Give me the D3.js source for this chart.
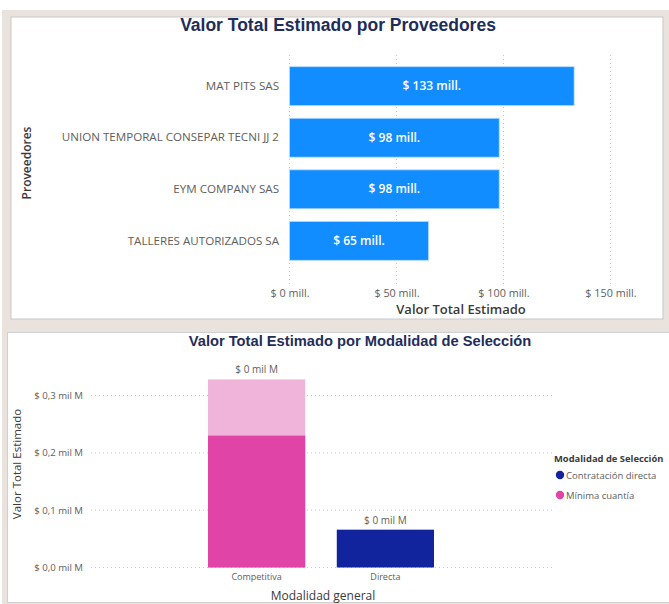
<!DOCTYPE html>
<html><head><meta charset="utf-8">
<script src="https://cdn.jsdelivr.net/npm/d3@7"></script>
<style>
html,body{margin:0;padding:0;background:#fff;}
svg{display:block;}
</style></head>
<body>
<svg id="c" width="669" height="604"></svg>
<script>
// ---- Data ----
const proveedores = ["MAT PITS SAS","UNION TEMPORAL CONSEPAR TECNI JJ 2","EYM COMPANY SAS","TALLERES AUTORIZADOS SA"];
const valoresProv = [133, 98, 98, 65]; // millones
const provLabels = ["$ 133 mill.","$ 98 mill.","$ 98 mill.","$ 65 mill."];
const xTicksProv = [0, 50, 100, 150];
const xTickLabelsProv = ["$ 0 mill.","$ 50 mill.","$ 100 mill.","$ 150 mill."];

const modalidades = ["Competitiva","Directa"];
const minimaCuantia = [0.230, 0];        // mil M (resaltado)
const totalCompetitiva = [0.328, 0];     // mil M (total, tono claro)
const contratacionDirecta = [0, 0.066];  // mil M
const modLabels = ["$ 0 mil M","$ 0 mil M"];
const yTicksMod = [0, 0.1, 0.2, 0.3];
const yTickLabelsMod = ["$ 0,0 mil M","$ 0,1 mil M","$ 0,2 mil M","$ 0,3 mil M"];
const legendNames = ["Contratación directa","Mínima cuantía"];
const legendColors = ["#12239E","#E044A7"];

const svg = d3.select("#c");
const SEGOE = "'Open Sans','Noto Sans',sans-serif";
const ARIAL = "'Liberation Sans',Arial,sans-serif";

// ---- Background panels ----
svg.append("rect").attr("x",2).attr("y",10).attr("width",667).attr("height",594).attr("fill","#e9e2dd");
svg.append("rect").attr("x",11).attr("y",17).attr("width",652).attr("height",302).attr("fill","#fff").attr("stroke","#c8c8c8").attr("stroke-width",1);
svg.append("rect").attr("x",7.5).attr("y",332.5).attr("width",662).attr("height",270).attr("fill","#fff").attr("stroke","#d0d0d0").attr("stroke-width",1);

// ---- Top chart ----
const gTop = svg.append("g");
gTop.append("text").attr("x",338).attr("y",31).attr("text-anchor","middle")
  .attr("font-family",ARIAL).attr("font-weight","bold").attr("font-size",17.5).attr("fill","#1f2d5a")
  .text("Valor Total Estimado por Proveedores");

const x1 = d3.scaleLinear().domain([0,150]).range([289.5, 610.5]);
const y1 = d3.scaleBand().domain(proveedores).range([60.5, 266.5]).paddingInner(0.245).paddingOuter(0.12);

// grid
gTop.append("g").selectAll("line").data(xTicksProv).join("line")
  .attr("x1",d=>x1(d)).attr("x2",d=>x1(d)).attr("y1",55).attr("y2",284)
  .attr("stroke","#c8c8c8").attr("stroke-dasharray","1,3");

const xAx1 = d3.axisBottom(x1).tickValues(xTicksProv).tickFormat((d,i)=>xTickLabelsProv[i]).tickSize(0).tickPadding(0);
const gx1 = gTop.append("g").attr("transform","translate(0,297)").call(xAx1);
gx1.select(".domain").remove();
gx1.selectAll("text").attr("font-family",SEGOE).attr("font-size",10.8).attr("fill","#605e5c").attr("dy","0");

const yAx1 = d3.axisLeft(y1).tickSize(0).tickPadding(0);
const gy1 = gTop.append("g").attr("transform","translate(279,0)").call(yAx1);
gy1.select(".domain").remove();
gy1.selectAll("text").attr("font-family",SEGOE).attr("font-size",11.6).attr("fill","#605e5c");

gTop.append("g").selectAll("rect").data(proveedores).join("rect")
  .attr("x",x1(0)).attr("y",d=>y1(d)).attr("width",(d,i)=>x1(valoresProv[i])-x1(0)).attr("height",y1.bandwidth())
  .attr("fill","#118DFF").attr("stroke","#b9dcff").attr("stroke-width",0.8);

gTop.append("g").selectAll("text").data(proveedores).join("text")
  .attr("x",(d,i)=>(x1(0)+x1(valoresProv[i]))/2).attr("y",d=>y1(d)+y1.bandwidth()/2+4)
  .attr("text-anchor","middle").attr("font-family",SEGOE).attr("font-weight","600").attr("font-size",12)
  .attr("fill","#fff").text((d,i)=>provLabels[i]);

gTop.append("text").attr("x",461).attr("y",314).attr("text-anchor","middle")
  .attr("font-family",SEGOE).attr("font-weight","600").attr("font-size",13).attr("fill","#3b3a39")
  .text("Valor Total Estimado");
gTop.append("text").attr("transform","translate(31,163) rotate(-90)").attr("text-anchor","middle")
  .attr("font-family",SEGOE).attr("font-weight","600").attr("font-size",12).attr("fill","#3b3a39")
  .text("Proveedores");

// ---- Bottom chart ----
const gBot = svg.append("g");
gBot.append("text").attr("x",360).attr("y",346).attr("text-anchor","middle")
  .attr("font-family",ARIAL).attr("font-weight","bold").attr("font-size",14.7).attr("fill","#1f2d5a")
  .text("Valor Total Estimado por Modalidad de Selección");

const y2 = d3.scaleLinear().domain([0,0.3]).range([567.5, 395.5]);
const x2 = d3.scaleBand().domain(modalidades).range([208, 434]).paddingInner(0.245).paddingOuter(0);

gBot.append("g").selectAll("line").data(yTicksMod).join("line")
  .attr("x1",91).attr("x2",555).attr("y1",d=>y2(d)).attr("y2",d=>y2(d))
  .attr("stroke","#c8c8c8").attr("stroke-dasharray","1,3");

const yAx2 = d3.axisLeft(y2).tickValues(yTicksMod).tickFormat((d,i)=>yTickLabelsMod[i]).tickSize(0).tickPadding(0);
const gy2 = gBot.append("g").attr("transform","translate(83,0)").call(yAx2);
gy2.select(".domain").remove();
gy2.selectAll("text").attr("font-family",SEGOE).attr("font-size",9.6).attr("fill","#605e5c");

const xAx2 = d3.axisBottom(x2).tickSize(0).tickPadding(0);
const gx2 = gBot.append("g").attr("transform","translate(0,580)").call(xAx2);
gx2.select(".domain").remove();
gx2.selectAll("text").attr("font-family",SEGOE).attr("font-size",9).attr("fill","#605e5c").attr("dy","0");

// light total
gBot.append("g").selectAll("rect").data(modalidades).join("rect")
  .attr("x",d=>x2(d)).attr("width",x2.bandwidth())
  .attr("y",(d,i)=>y2(totalCompetitiva[i])).attr("height",(d,i)=>y2(0)-y2(totalCompetitiva[i]))
  .attr("fill","#F0B3D9");
// minima cuantia
gBot.append("g").selectAll("rect").data(modalidades).join("rect")
  .attr("x",d=>x2(d)).attr("width",x2.bandwidth())
  .attr("y",(d,i)=>y2(minimaCuantia[i])).attr("height",(d,i)=>y2(0)-y2(minimaCuantia[i]))
  .attr("fill","#E044A7");
// contratacion directa
gBot.append("g").selectAll("rect").data(modalidades).join("rect")
  .attr("x",d=>x2(d)).attr("width",x2.bandwidth())
  .attr("y",(d,i)=>y2(contratacionDirecta[i])).attr("height",(d,i)=>y2(0)-y2(contratacionDirecta[i]))
  .attr("fill","#12239E");

gBot.append("g").selectAll("text").data(modalidades).join("text")
  .attr("x",d=>x2(d)+x2.bandwidth()/2)
  .attr("y",(d,i)=>y2(Math.max(totalCompetitiva[i],contratacionDirecta[i]))-6)
  .attr("text-anchor","middle").attr("font-family",SEGOE).attr("font-size",10).attr("fill","#605e5c")
  .text((d,i)=>modLabels[i]);

gBot.append("text").attr("x",323).attr("y",600).attr("text-anchor","middle")
  .attr("font-family",SEGOE).attr("font-size",12).attr("fill","#3b3a39").text("Modalidad general");
gBot.append("text").attr("transform","translate(21,464) rotate(-90)").attr("text-anchor","middle")
  .attr("font-family",SEGOE).attr("font-size",11.5).attr("fill","#3b3a39").text("Valor Total Estimado");

// legend
gBot.append("text").attr("x",554).attr("y",462).attr("font-family",SEGOE).attr("font-weight","bold")
  .attr("font-size",9.4).attr("fill","#3b3a39").text("Modalidad de Selección");
const lg = gBot.append("g").selectAll("g").data(legendNames).join("g")
  .attr("transform",(d,i)=>`translate(560,${475+i*20})`);
lg.append("circle").attr("r",4.2).attr("fill",(d,i)=>legendColors[i]);
lg.append("text").attr("x",6).attr("y",3.5).attr("font-family",SEGOE).attr("font-size",9.5).attr("fill","#605e5c").text(d=>d);
</script>
</body></html>
